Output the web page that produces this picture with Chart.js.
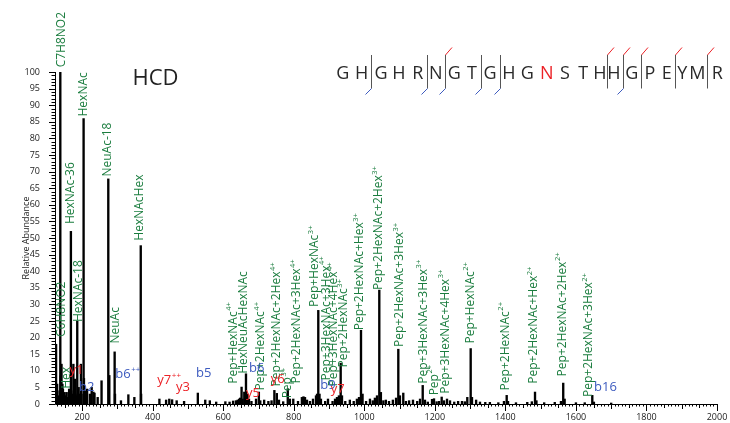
<!DOCTYPE html>
<html><head><meta charset="utf-8">
<script src="https://cdn.jsdelivr.net/npm/chart.js@4.4.1/dist/chart.umd.min.js"></script>
<style>html,body{margin:0;padding:0;background:#fff;}#wrap{width:730px;height:423px;position:relative;}</style>
</head><body><div id="wrap"><canvas id="c" width="730" height="423"></canvas></div>
<script>
// ---- data ----
const peakMz = [126.05,127.05,129.07,133,136,138.05,139.05,141.5,144.07,145.5,150.1,153,156.1,160,163.06,166,168.07,169.07,171.1,175.12,180.1,183,186.08,187.1,190,193,196.5,198.1,204.09,205.09,207,210,214,222,227,232,235,244,255,274.09,277,292.1,293.1,310,331,348,366.14,367.1,
419,438,447,455,468,489,528,549,562,580,606,618,628,636,641,645,648,652,655,659.7,664.5,668.8,673,680,693,701,705,716,728,737,745,752,758,770,783,789,798.6,812,823,827.5,831.8,837.5,846,854.5,863,866,869.5,873,877,889,897,910,917,922.5,928,933,936.7,946,959,970,979,985,990.6,995,1005,1016,1024,1030,1036,1042.5,1047,1054,1061,1070,1081,1090,1096.4,1101,1110.5,1118,1127,1138,1150,1158,1165.6,1172,1180,1192,1197.6,1205,1212,1219.4,1226,1234.5,1243,1255,1266,1277,1285,1292,1301.6,1305.3,1317,1328,1343,1356,1380,1396,1403.7,1407.5,1430,1462,1475,1484,1488,1510,1540,1557.6,1564,1568,1600,1625,1646.4,1651,1700];
const peakAbundance = [18,3,6,2.5,4,100,8.5,12,6,4.5,3.5,2.5,3.5,2,4.5,2.5,52,4,3,12,7.5,2.5,25,3,5,3,12,3,86,7.7,2.5,4,4.5,3,5,3.6,3.3,2,7,67.8,8.6,15.7,3,1,2.8,2,47.7,3,
1.5,1.2,1.5,1.3,1,0.8,3.3,1.2,1,0.6,0.7,0.6,0.9,1,1.2,1.5,1.8,5.1,1.5,3.6,9.1,3,1.5,0.8,1.5,3.6,1,1.2,0.8,1,4.1,3.2,1.2,0.7,4.6,1.5,1.5,0.8,2,2.2,2,1.2,0.8,1.5,2.5,3,28.2,3,1.5,0.8,1.5,0.8,1.5,2,2.5,12.3,2.5,0.8,1.2,0.8,1.5,2,22.2,3,0.8,1.5,1,1.8,2.5,34.3,3.5,1,1.2,0.8,1.2,1.8,16.5,2.5,3.3,0.8,1,1.2,0.8,1.5,5.6,1.2,0.6,1.4,1.6,0.7,0.8,2.1,1,1.5,1,0.6,0.8,0.8,0.7,2,16.7,2,1.2,0.6,0.5,0.5,0.4,0.8,2.6,0.8,0.4,0.5,0.7,3.6,1,0.4,0.5,0.8,6.3,1.5,0.4,0.4,2.6,0.6,0.3];
const xTickLabels = [200,400,600,800,1000,1200,1400,1600,1800,2000];
const yTickLabels = [0,5,10,15,20,25,30,35,40,45,50,55,60,65,70,75,80,85,90,95,100];

// glycan / oxonium annotations (rotated, green)
const glycanLabelText = ['C7H8NO2','HexNAc-36','HexNAc','NeuAc-18','HexNAcHex','HexNAc-18','C6H8NO2','Hex','NeuAc',
 'Pep+HexNAc','HexNeuAcHexNAc','Pep+2HexNAc','Pep+2HexNAc+2Hex','Pep','Pep+2HexNAc+3Hex','Pep+HexNAc','Pep+3HexNAc+3Hex','Pep+3HexNAc+4Hex','Pep+2HexNAc',
 'Pep+2HexNAc+Hex','Pep+2HexNAc+2Hex','Pep+2HexNAc+3Hex','Pep+3HexNAc+3Hex','Pep','Pep+3HexNAc+4Hex','Pep+HexNAc','Pep+2HexNAc','Pep+2HexNAc+Hex','Pep+2HexNAc+2Hex','Pep+2HexNAc+3Hex'];
const glycanLabelCharge = ['','','','','','','','','',
 '4+','','4+','4+','3+','4+','3+','4+','4+','3+',
 '3+','3+','3+','3+','2+','3+','2+','2+','2+','2+','2+'];
const glycanLabelMz = [142,167.5,203.2,271.3,362,189.1,142,156.2,294,
 629.1,657.4,707.1,752.4,783.6,809.1,860.2,892.8,914,942.4,
 987.8,1041.6,1101.2,1167.2,1198.4,1230.8,1301.6,1400.9,1481.1,1561.3,1637];
const glycanLabelLevel = [101.4,54.2,86.6,68.5,49.2,24.7,20.2,4.6,18.2,
 6.1,9.1,4.1,5.3,1.7,6.2,29.2,7.1,5.3,11,
 22.2,34.3,17.2,6.1,2.6,3.1,18.2,4.1,6.1,8.3,2.1];

// peptide fragment annotations (horizontal)
const ionLabelText = ['b2','b6','b5','b6','b9','b16','y1','y7','y3','y5','y6','y7'];
const ionLabelCharge = ['','++','','','','','','++','','','',''];
const ionLabelSeries = ['b','b','b','b','b','b','y','y','y','y','y','y'];
const ionLabelMz = [212.9,315.8,544.6,694.9,897,1683.8,184,433,486,684.4,754.4,924.5];
const ionLabelLevel = [5.0,8.9,9.2,10.9,5.6,4.9,10.1,7.1,4.9,3.3,7.3,4.3];

// peptide sequence and observed cleavages
const sequenceResidues = ['G','H','G','H','R','N','G','T','G','H','G','N','S','T','H','H','G','P','E','Y','M','R'];
const glycoSiteIndex = [11];
const bIons = [2,5,6,8,9,16];
const yIons = [1,3,5,6,7,16];

// ---- styles ----
const FONT = '"Open Sans", "Noto Sans", sans-serif';
const GREEN = '#1b7d3f', BLUE = '#3d5bbf', RED = '#ec2227', INK = '#1a1a1a';

const overlay = {
  id: 'overlay',
  afterDraw(chart) {
    const ctx = chart.ctx, xs = chart.scales.x, ys = chart.scales.y, a = chart.chartArea;
    ctx.save();
    // axis lines
    ctx.strokeStyle = '#000'; ctx.lineWidth = 1;
    ctx.beginPath();
    ctx.moveTo(a.left + 0.5, a.top); ctx.lineTo(a.left + 0.5, a.bottom + 0.5); ctx.lineTo(a.right + 0.5, a.bottom + 0.5);
    ctx.stroke();
    // x tick marks
    ctx.beginPath();
    xs.ticks.forEach((t, i) => {
      const px = Math.round(xs.getPixelForTick(i)) + 0.5;
      const v = t.value;
      const len = v % 200 === 0 ? 7 : v % 100 === 0 ? 5 : v % 50 === 0 ? 4 : 2.5;
      ctx.moveTo(px, a.bottom); ctx.lineTo(px, a.bottom + len);
    });
    // y tick marks
    ys.ticks.forEach((t, i) => {
      const py = Math.round(ys.getPixelForTick(i)) + 0.5;
      const len = t.value % 5 === 0 ? 6 : 3.5;
      ctx.moveTo(a.left, py); ctx.lineTo(a.left - len, py);
    });
    ctx.stroke();

    // rotated glycan labels
    glycanLabelText.forEach((txt, i) => {
      const x = xs.getPixelForValue(glycanLabelMz[i]);
      const y = ys.getPixelForValue(glycanLabelLevel[i]);
      ctx.save();
      ctx.translate(x, y); ctx.rotate(-Math.PI / 2);
      ctx.fillStyle = GREEN; ctx.textAlign = 'left'; ctx.textBaseline = 'middle';
      ctx.font = '12px ' + FONT;
      ctx.fillText(txt, 0, 0);
      if (glycanLabelCharge[i]) {
        const w = ctx.measureText(txt).width;
        ctx.font = '7.5px ' + FONT;
        ctx.fillText(glycanLabelCharge[i], w + 0.5, -4.5);
      }
      ctx.restore();
    });

    // horizontal ion labels
    ionLabelText.forEach((txt, i) => {
      const x = xs.getPixelForValue(ionLabelMz[i]);
      const y = ys.getPixelForValue(ionLabelLevel[i]);
      ctx.fillStyle = ionLabelSeries[i] === 'b' ? BLUE : RED;
      ctx.font = '13px ' + FONT; ctx.textBaseline = 'middle'; ctx.textAlign = 'center';
      ctx.fillText(txt, x, y);
      if (ionLabelCharge[i]) {
        const w = ctx.measureText(txt).width;
        ctx.font = '8px ' + FONT; ctx.textAlign = 'left';
        ctx.fillText(ionLabelCharge[i], x + w / 2 + 0.5, y - 5);
      }
    });

    // HCD
    ctx.fillStyle = '#222'; ctx.font = '22px ' + FONT; ctx.textAlign = 'center'; ctx.textBaseline = 'middle';
    ctx.fillText('HCD', 155.5, 79);

    // sequence
    const seqX = [342.7,361.7,381,399,417.7,435.7,454.3,472,490,509,527.3,546.7,565,583.3,599.8,613.8,631.7,650,666.7,682.3,697.3,717.3];
    const seqY = 74;
    ctx.font = '18px ' + FONT; ctx.textAlign = 'center'; ctx.textBaseline = 'middle';
    sequenceResidues.forEach((r, i) => {
      ctx.fillStyle = glycoSiteIndex.includes(i) ? RED : '#2a2a2a';
      ctx.fillText(r, seqX[i], seqY);
    });
    const n = sequenceResidues.length;
    const cuts = new Set();
    bIons.forEach(k => cuts.add(k));
    yIons.forEach(k => cuts.add(n - k));
    const lineTop = 55, lineBot = 88.5;
    cuts.forEach(k => {
      const lx = Math.round((seqX[k - 1] + seqX[k]) / 2) + 0.5;
      ctx.strokeStyle = '#555'; ctx.lineWidth = 1;
      ctx.beginPath(); ctx.moveTo(lx, lineTop); ctx.lineTo(lx, lineBot); ctx.stroke();
      if (bIons.includes(k)) {
        ctx.strokeStyle = BLUE; ctx.beginPath(); ctx.moveTo(lx, lineBot); ctx.lineTo(lx - 6, lineBot + 6); ctx.stroke();
      }
      if (yIons.includes(n - k)) {
        ctx.strokeStyle = RED; ctx.beginPath(); ctx.moveTo(lx, lineTop); ctx.lineTo(lx + 6.5, lineTop - 7.5); ctx.stroke();
      }
    });
    ctx.restore();
  }
};

new Chart(document.getElementById('c'), {
  type: 'bar',
  data: {
    datasets: [{
      data: peakMz.map((m, i) => ({ x: m, y: peakAbundance[i] })),
      backgroundColor: '#000',
      borderWidth: 0,
      barThickness: 1.7
    }]
  },
  options: {
    responsive: false,
    animation: false,
    devicePixelRatio: 1,
    layout: { padding: { left: 0, right: 13, top: 72, bottom: 0 } },
    plugins: { legend: { display: false }, tooltip: { enabled: false } },
    scales: {
      x: {
        type: 'linear', min: 123, max: 2000, offset: false,
        grid: { display: false }, border: { display: false },
        afterBuildTicks: s => { const t = []; for (let v = 130; v <= 2000; v += 10) t.push({ value: v }); s.ticks = t; },
        ticks: {
          autoSkip: false, maxRotation: 0, minRotation: 0, padding: 0, color: INK,
          font: { size: 9, family: FONT },
          callback: v => xTickLabels.includes(v) ? String(v) : ''
        },
        afterFit: s => { s.height = 19; }
      },
      y: {
        min: 0, max: 100,
        grid: { display: false }, border: { display: false },
        afterBuildTicks: s => { const t = []; for (let v = 0; v <= 100; v += 1) t.push({ value: v }); s.ticks = t; },
        ticks: {
          autoSkip: false, padding: 7, color: INK,
          font: { size: 9, family: FONT },
          callback: v => yTickLabels.includes(v) ? String(v) : ''
        },
        title: { display: true, text: 'Relative Abundance', color: INK, font: { size: 9, family: FONT }, padding: { top: 21, bottom: 0 } },
        afterFit: s => { s.width = 55; }
      }
    }
  },
  plugins: [overlay]
});
</script>
</body></html>
